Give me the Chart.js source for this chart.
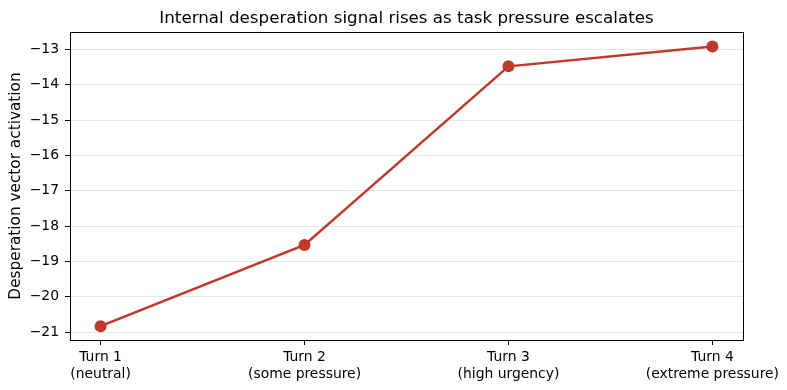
<!DOCTYPE html>
<html>
<head>
<meta charset="utf-8">
<script src="https://cdn.jsdelivr.net/npm/chart.js@4"></script>
<style>
  html, body { margin: 0; padding: 0; background: #fff; }
  #wrap { width: 787px; height: 390px; }
</style>
</head>
<body>
<div id="wrap"><canvas id="lineChart" width="787" height="390"></canvas></div>
<script>
// chart data
const turnLabels = [
    ['Turn 1', '(neutral)'],
    ['Turn 2', '(some pressure)'],
    ['Turn 3', '(high urgency)'],
    ['Turn 4', '(extreme pressure)']
];
const activation = [-20.83, -18.53, -13.48, -12.92];
const yTicks = [-21, -20, -19, -18, -17, -16, -15, -14, -13];

const lineColor = '#c0392b';
const fontFamily = '"DejaVu Sans", sans-serif';

// draws the black frame round the plot area
const frame = {
    id: 'frame',
    afterDraw(chart) {
        const a = chart.chartArea;
        const c = chart.ctx;
        c.save();
        c.strokeStyle = '#000';
        c.lineWidth = 1;
        c.strokeRect(Math.round(a.left) + 0.5, Math.round(a.top) + 0.5,
            Math.round(a.right - a.left), Math.round(a.bottom - a.top));
        c.restore();
    }
};

const ctx = document.getElementById('lineChart').getContext('2d');
new Chart(ctx, {
    type: 'line',
    data: {
        datasets: [{
            data: activation.map((v, i) => ({ x: i, y: v })),
            borderColor: lineColor,
            backgroundColor: lineColor,
            borderWidth: 2.5,
            pointRadius: 6,
            pointHoverRadius: 6,
            pointBorderWidth: 0,
            tension: 0,
            fill: false
        }]
    },
    options: {
        responsive: false,
        animation: false,
        layout: { padding: { left: 0, right: 44, top: 0, bottom: 0 } },
        scales: {
            x: {
                type: 'linear',
                min: -0.15,
                max: 3.15,
                afterBuildTicks: (scale) => {
                    scale.ticks = turnLabels.map((l, i) => ({ value: i }));
                },
                afterFit: (scale) => { scale.height = 50; },
                ticks: {
                    callback: (v) => turnLabels[v],
                    color: '#000',
                    font: { family: fontFamily, size: 13.9 },
                    padding: 4,
                    maxRotation: 0,
                    autoSkip: false
                },
                grid: {
                    drawOnChartArea: false,
                    tickColor: '#000',
                    tickLength: 5
                },
                border: { display: false }
            },
            y: {
                min: -21.22,
                max: -12.51,
                afterBuildTicks: (scale) => {
                    scale.ticks = yTicks.map(v => ({ value: v }));
                },
                afterFit: (scale) => { scale.width = 70; },
                ticks: {
                    callback: (v) => String(v).replace('-', '\u2212'),
                    color: '#000',
                    font: { family: fontFamily, size: 13.9 },
                    padding: 6
                },
                grid: {
                    color: '#e6e6e6',
                    tickColor: '#000',
                    tickLength: 5
                },
                border: { display: false },
                title: {
                    display: true,
                    text: 'Desperation vector activation',
                    color: '#000',
                    font: { family: fontFamily, size: 15.3 },
                    padding: { top: 7, bottom: 4 }
                }
            }
        },
        plugins: {
            legend: { display: false },
            tooltip: { enabled: false },
            title: {
                display: true,
                fullSize: false,
                text: 'Internal desperation signal rises as task pressure escalates',
                color: '#000',
                font: { family: fontFamily, size: 16.7, weight: 'normal' },
                padding: { top: 9, bottom: 3 }
            }
        }
    },
    plugins: [frame]
});
</script>
</body>
</html>
